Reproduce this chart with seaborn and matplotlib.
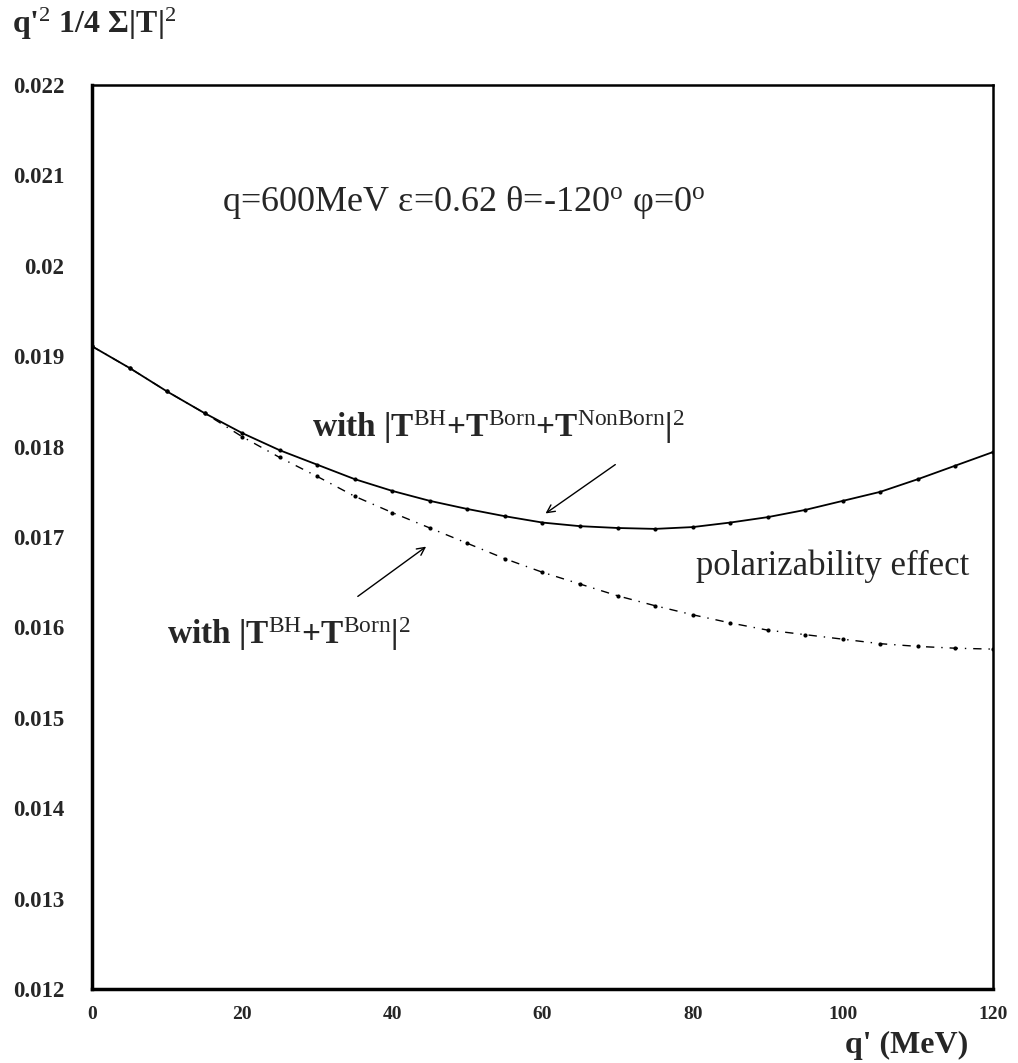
import numpy as np
import pandas as pd
import matplotlib
matplotlib.use("Agg")
import matplotlib.pyplot as plt
from matplotlib.ticker import MultipleLocator
import seaborn as sns

# q' values (MeV) and the two curves
q_prime = [0, 5, 10, 15, 20, 25, 30, 35, 40, 45, 50, 55, 60,
           65, 70, 75, 80, 85, 90, 95, 100, 105, 110, 115, 120]
full_T = [0.01911, 0.01887, 0.01861, 0.01837, 0.01815, 0.01796, 0.01780,
          0.01764, 0.01751, 0.01740, 0.01731, 0.01723, 0.01716, 0.01712,
          0.01710, 0.01709, 0.01711, 0.01716, 0.01722, 0.01730, 0.01740,
          0.01750, 0.01764, 0.01779, 0.01794]
bh_born = [0.01911, 0.01887, 0.01861, 0.01837, 0.01811, 0.01788, 0.01767,
           0.01745, 0.01727, 0.01710, 0.01693, 0.01676, 0.01661, 0.01648,
           0.01635, 0.01624, 0.01614, 0.01605, 0.01597, 0.01592, 0.01587,
           0.01582, 0.01579, 0.01577, 0.01576]

df = pd.DataFrame({"q": q_prime, "full": full_T, "born": bh_born})

sns.set_theme(style="white")
plt.rcParams["font.family"] = ["Liberation Serif", "DejaVu Serif"]
plt.rcParams["mathtext.fontset"] = "custom"
plt.rcParams["mathtext.rm"] = "Liberation Serif"
plt.rcParams["mathtext.it"] = "Liberation Serif:italic"
plt.rcParams["mathtext.bf"] = "Liberation Serif:bold"

fig = plt.figure(figsize=(10.18, 10.63), dpi=100)
ax = fig.add_axes([0.0904, 0.0696, 0.885, 0.8504])

sns.lineplot(data=df, x="q", y="full", ax=ax, color="black", linewidth=1.3,
             marker="o", markersize=3, markeredgewidth=0)
sns.lineplot(data=df, x="q", y="born", ax=ax, color="black", linewidth=1.0,
             linestyle=(0, (6, 5, 1, 5)), marker="o", markersize=3,
             markeredgewidth=0)

ax.set_xlim(0, 120)
ax.set_ylim(0.012, 0.022)
ax.set_xlabel("")
ax.set_ylabel("")

ax.xaxis.set_major_locator(MultipleLocator(20))
ax.xaxis.set_minor_locator(MultipleLocator(5))
ax.yaxis.set_major_locator(MultipleLocator(0.001))
ax.yaxis.set_minor_locator(MultipleLocator(0.00025))
ax.yaxis.set_major_formatter(plt.FuncFormatter(lambda v, p: ("%.3f" % v).rstrip("0")))

ax.tick_params(axis="both", which="both", direction="in", color="black",
               top=False, right=False)
ax.tick_params(axis="x", which="major", length=13, width=1, pad=12, labelsize=14)
ax.tick_params(axis="x", which="minor", length=6, width=1)
ax.tick_params(axis="y", which="major", length=16, width=1.2, pad=20, labelsize=16.5)
ax.tick_params(axis="y", which="minor", length=8, width=1.2)
for lab in ax.get_xticklabels() + ax.get_yticklabels():
    lab.set_fontweight("bold")

for side in ["left", "bottom"]:
    ax.spines[side].set_linewidth(2.5)
for side in ["top", "right"]:
    ax.spines[side].set_linewidth(1.8)
for s in ax.spines.values():
    s.set_color("black")

# annotations
ax.text(17.3, 0.02061, r"q=600MeV ε=0.62 θ=-120$^{\mathrm{o}}$ φ=0$^{\mathrm{o}}$",
        fontsize=26, va="baseline", ha="left")
ax.text(29.3, 0.01811,
        r"with |T$^{\mathrm{BH}}$+T$^{\mathrm{Born}}$+T$^{\mathrm{NonBorn}}$|$^{2}$",
        fontsize=24, fontweight="bold", va="baseline", ha="left")
ax.text(80.4, 0.01658, "polarizability effect", fontsize=25,
        va="baseline", ha="left")
ax.text(10.0, 0.01582, r"with |T$^{\mathrm{BH}}$+T$^{\mathrm{Born}}$|$^{2}$",
        fontsize=24, fontweight="bold", va="baseline", ha="left")

ax.annotate("", xy=(60.1, 0.017243), xytext=(70.0, 0.017819),
            arrowprops=dict(arrowstyle="->", color="black", lw=1,
                            mutation_scale=14))
ax.annotate("", xy=(44.8, 0.016912), xytext=(35.1, 0.016325),
            arrowprops=dict(arrowstyle="->", color="black", lw=1,
                            mutation_scale=14))

fig.text(12 / 1018, 1 - 33 / 1063, r"q'$^{2}$ 1/4 Σ|T|$^{2}$", fontsize=23,
         fontweight="bold", ha="left", va="baseline")
fig.text(845 / 1018, 1 - 1053 / 1063, "q' (MeV)", fontsize=23,
         fontweight="bold", ha="left", va="baseline")

fig.savefig("out.png", dpi=100)
